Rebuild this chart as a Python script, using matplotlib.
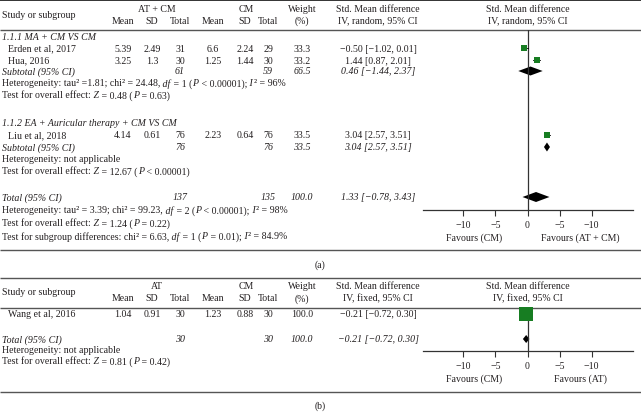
import matplotlib
matplotlib.use('Agg')
import matplotlib.pyplot as plt
from matplotlib.patches import Polygon


plt.rcParams['font.family'] = 'Liberation Serif'

W, H = 641, 414
FS = 7.1
TXT = '#231f20'
LINE = '#555555'
GREEN = '#177d22'

# ---- panel (a) data ----
study_a = ['Erden et al, 2017', 'Hua, 2016', 'Liu et al, 2018']
group_a = [0, 0, 1]
mean_t_a = [5.39, 3.25, 4.14]
sd_t_a = [2.49, 1.3, 0.61]
n_t_a = [31, 30, 76]
mean_c_a = [6.6, 1.25, 2.23]
sd_c_a = [2.24, 1.44, 0.64]
n_c_a = [29, 30, 76]
weight_a = [33.3, 33.2, 33.5]
smd_a = [-0.50, 1.44, 3.04]
lo_a = [-1.02, 0.87, 2.57]
hi_a = [0.01, 2.01, 3.51]

# '*' toggles italic
sub_names = ['1.1.1 MA + CM VS CM', '1.1.2 EA + Auricular therapy + CM VS CM']
sub_n_t = [61, 76]
sub_n_c = [59, 76]
sub_weight = [66.5, 33.5]
sub_smd = [0.46, 3.04]
sub_lo = [-1.44, 2.57]
sub_hi = [2.37, 3.51]
sub_het = ['Heterogeneity: tau\u00b2 =1.81; chi\u00b2 = 24.48, *df* = 1 (*P* < 0.00001); *I*\u00b2 = 96%',
           'Heterogeneity: not applicable']
sub_test = ['Test for overall effect: *Z* = 0.48 (*P* = 0.63)',
            'Test for overall effect: *Z* = 12.67 (*P* < 0.00001)']

total_n_t_a = 137
total_n_c_a = 135
total_weight_a = 100.0
total_smd_a = 1.33
total_lo_a = -0.78
total_hi_a = 3.43
total_lines_a = ['Heterogeneity: tau\u00b2 = 3.39; chi\u00b2 = 99.23, *df* = 2 (*P* < 0.00001); *I*\u00b2 = 98%',
                 'Test for overall effect: *Z* = 1.24 (*P* = 0.22)',
                 'Test for subgroup differences: chi\u00b2 = 6.63, *df* = 1 (*P* = 0.01); *I*\u00b2 = 84.9%']

# ---- panel (b) data ----
study_b = ['Wang et al, 2016']
mean_t_b = [1.04]
sd_t_b = [0.91]
n_t_b = [30]
mean_c_b = [1.23]
sd_c_b = [0.88]
n_c_b = [30]
weight_b = [100.0]
smd_b = [-0.21]
lo_b = [-0.72]
hi_b = [0.30]
total_n_t_b = 30
total_n_c_b = 30
total_weight_b = 100.0
total_smd_b = -0.21
total_lo_b = -0.72
total_hi_b = 0.30
total_lines_b = ['Heterogeneity: not applicable',
                 'Test for overall effect: *Z* = 0.81 (*P* = 0.42)']

tick_vals = [-10, -5, 0, 5, 10]
tick_labels = ['\u221210', '\u22125', '0', '\u22125', '\u221210']


def fmt(v):
    return str(v).replace('-', '\u2212')


def ci_text(e, lo, hi):
    return '%s [%s, %s]' % (fmt('%.2f' % e), fmt('%.2f' % lo), fmt('%.2f' % hi))


fig = plt.figure(figsize=(W / 100, H / 100), dpi=100)
bg = fig.add_axes([0, 0, 1, 1])
bg.set_xlim(0, W)
bg.set_ylim(H, 0)
bg.axis('off')
renderer = fig.canvas.get_renderer()


def txt(x, y, s, ha='left', italic=False, **kw):
    return bg.text(x, y, s, ha=ha, va='center', fontsize=FS, color=TXT,
                   style='italic' if italic else 'normal', **kw)


def rich(x, y, s):
    # split on '*', move trailing blanks to the next piece so widths add up
    parts = s.split('*')
    segs = []
    carry = ''
    for i, p in enumerate(parts):
        p = carry + p
        stripped = p.rstrip(' ')
        carry = p[len(stripped):]
        segs.append((stripped, i % 2 == 1))
    for p, it in segs:
        if not p:
            continue
        t = txt(x, y, p, italic=it)
        x += t.get_window_extent(renderer=renderer).width
        if it:
            x += 0.5


def hline(y, lw=1.0, color=LINE):
    bg.plot([0, W], [y, y], color=color, lw=lw, solid_capstyle='butt')


COLS = [123, 152, 180, 213, 245, 268, 302]
CI_X = 378


def header(y0, trt, ci_kind):
    txt(2, y0 + 14, 'Study or subgroup')
    txt(157, y0 + 8, trt, ha='center')
    txt(246, y0 + 8, 'CM', ha='center')
    for x, s in zip(COLS[:6], ['Mean', 'SD', 'Total', 'Mean', 'SD', 'Total']):
        txt(x, y0 + 20, s, ha='center')
    txt(COLS[6], y0 + 8, 'Weight', ha='center')
    txt(COLS[6], y0 + 20, '(%)', ha='center')
    txt(CI_X, y0 + 8, 'Std. Mean difference', ha='center')
    txt(CI_X, y0 + 20, 'IV, %s, 95%% CI' % ci_kind, ha='center')
    txt(528, y0 + 8, 'Std. Mean difference', ha='center')
    txt(528, y0 + 20, 'IV, %s, 95%% CI' % ci_kind, ha='center')


def study_row(y, name, vals, ci):
    txt(8, y, name)
    for x, v in zip(COLS, vals):
        txt(x, y, fmt(v), ha='center')
    txt(CI_X, y, ci, ha='center')


def total_row(y, label, nt, nc, w, ci):
    txt(2, y, label, italic=True)
    txt(COLS[2], y, str(nt), ha='center', italic=True)
    txt(COLS[5], y, str(nc), ha='center', italic=True)
    txt(COLS[6], y, fmt(w), ha='center', italic=True)
    txt(CI_X, y, ci, ha='center', italic=True)


def forest_axes(y_top, y_axis, left_lab, right_lab):
    x0, x1 = 422.5, 632.5
    ax = fig.add_axes([x0 / W, 1 - y_axis / H, (x1 - x0) / W, (y_axis - y_top) / H])
    ax.set_xlim(-16.4, 16.4)
    ax.set_ylim(y_axis, y_top)
    ax.patch.set_alpha(0)
    for s in ['top', 'left', 'right']:
        ax.spines[s].set_visible(False)
    ax.spines['bottom'].set_color('#333333')
    ax.spines['bottom'].set_linewidth(0.9)
    ax.set_yticks([])
    ax.set_xticks(tick_vals)
    ax.set_xticklabels(tick_labels, fontsize=FS, color=TXT)
    ax.tick_params(axis='x', direction='out', length=4.3, width=0.8, color='#333333', pad=3)
    ax.axvline(0, color='#333333', lw=0.9)
    txt(474, y_axis + 27, left_lab, ha='center')
    txt(580, y_axis + 27, right_lab, ha='center')
    return ax


def diamond(ax, y, e, lo, hi, h):
    ax.add_patch(Polygon([[lo, y], [e, y - h / 2], [hi, y], [e, y + h / 2]],
                         closed=True, color='black', lw=0))


# ---------------- panel (a) ----------------
hline(1, lw=1.4, color='#333333')
header(1, 'AT + CM', 'random')
hline(31)

rows_a = {0: [49, 61], 1: [136]}
grp_head_y = [37, 124]
sub_y = [72, 148]
ax_a = forest_axes(31, 211, 'Favours (CM)', 'Favours (AT + CM)')
k = [0, 0]
for g in range(2):
    txt(2, grp_head_y[g], sub_names[g], italic=True)
for i in range(len(study_a)):
    g = group_a[i]
    y = rows_a[g][k[g]]
    k[g] += 1
    study_row(y, study_a[i],
              [mean_t_a[i], sd_t_a[i], n_t_a[i], mean_c_a[i], sd_c_a[i], n_c_a[i], weight_a[i]],
              ci_text(smd_a[i], lo_a[i], hi_a[i]))
    ax_a.plot([lo_a[i], hi_a[i]], [y, y], color='black', lw=0.6)
    ax_a.plot(smd_a[i], y, 's', color=GREEN, ms=4.4, mew=0)
for g in range(2):
    y = sub_y[g]
    total_row(y, 'Subtotal (95% CI)', sub_n_t[g], sub_n_c[g], sub_weight[g],
              ci_text(sub_smd[g], sub_lo[g], sub_hi[g]))
    diamond(ax_a, y, sub_smd[g], sub_lo[g], sub_hi[g], 9)
    rich(2, y + 12, sub_het[g])
    rich(2, y + 24, sub_test[g])

total_row(198, 'Total (95% CI)', total_n_t_a, total_n_c_a, total_weight_a,
          ci_text(total_smd_a, total_lo_a, total_hi_a))
diamond(ax_a, 198, total_smd_a, total_lo_a, total_hi_a, 10)
for j, s in enumerate(total_lines_a):
    rich(2, 211 + 13 * j, s)

hline(251)
txt(320, 265, '(a)', ha='center')
hline(279)

# ---------------- panel (b) ----------------
header(279, 'AT', 'fixed')
hline(309)
ax_b = forest_axes(309, 352, 'Favours (CM)', 'Favours (AT)')
for i in range(len(study_b)):
    y = 315
    study_row(y, study_b[i],
              [mean_t_b[i], sd_t_b[i], n_t_b[i], mean_c_b[i], sd_c_b[i], n_c_b[i], weight_b[i]],
              ci_text(smd_b[i], lo_b[i], hi_b[i]))
    ax_b.plot([lo_b[i], hi_b[i]], [y, y], color='black', lw=0.6)
    ax_b.plot(smd_b[i], y, 's', color=GREEN, ms=10, mew=0, clip_on=False)
total_row(340, 'Total (95% CI)', total_n_t_b, total_n_c_b, total_weight_b,
          ci_text(total_smd_b, total_lo_b, total_hi_b))
diamond(ax_b, 340, total_smd_b, total_lo_b, total_hi_b, 8)
for j, s in enumerate(total_lines_b):
    rich(2, 351 + 11 * j, s)

hline(393)
txt(320, 406, '(b)', ha='center')

fig.savefig('out.png', dpi=100)
